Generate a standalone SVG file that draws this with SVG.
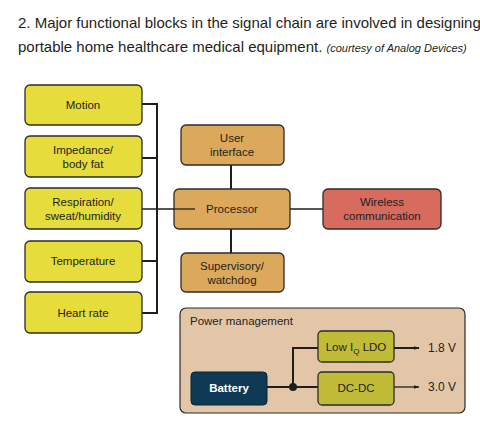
<svg xmlns="http://www.w3.org/2000/svg" width="480" height="444" viewBox="0 0 480 444">
<style>
.t{font-family:"Liberation Sans",Arial,sans-serif;fill:#231f20}
.cap{font-size:15px}
.lbl{font-size:11.5px;text-anchor:middle}
.box{stroke:#2b2b2b;stroke-width:1.3}
.y{fill:#e6dc3c}
.o{fill:#dca85b}
.r{fill:#d66b5e}
.g{fill:#c0bc38}
.w{stroke:#1e1e1e;stroke-width:2;fill:none}
.thin{stroke:#1e1e1e;stroke-width:1.3;fill:none}
</style>
<defs>
<marker id="ah" viewBox="0 0 10 10" refX="9" refY="5" markerWidth="6" markerHeight="6" orient="auto" markerUnits="userSpaceOnUse"><path d="M0,2 L10,5 L0,8 Z" fill="#1e1e1e"/></marker>
</defs>
<rect width="480" height="444" fill="#ffffff"/>
<text class="t cap" x="18" y="28">2. Major functional blocks in the signal chain are involved in designing</text>
<text class="t cap" x="18" y="52">portable home healthcare medical equipment. <tspan font-size="11" font-style="italic">(courtesy of Analog Devices)</tspan></text>

<g id="power-bg">
<rect x="180" y="308" width="285" height="105" rx="6" fill="#e3c6a8" stroke="#2b2b2b" stroke-width="1.2"/>
<text class="t" x="190" y="325" font-size="11.5">Power management</text>
</g>

<g id="connectors">
<path class="w" d="M142,104 H157 V313 H142 M142,158 H157 M142,261 H157"/>
<path class="thin" d="M142,209 H195"/>
<path class="w" d="M231,165 V189 M231,229 V253"/>
<path class="thin" d="M290,209 H323"/>
<path class="w" d="M267,387 H318 M293,387 V348 H318"/>
<circle cx="293" cy="387" r="4" fill="#1e1e1e"/>
<path class="w" d="M394,348 H419" marker-end="url(#ah)"/>
<path class="thin" d="M394,387 H419" marker-end="url(#ah)"/>
</g>

<g id="motion"><rect class="box y" x="25" y="85" width="117" height="40" rx="5"/><text class="t lbl" x="83" y="109">Motion</text></g>
<g id="impedance"><rect class="box y" x="25" y="136" width="117" height="41" rx="5"/><text class="t lbl" x="83" y="154">Impedance/</text><text class="t lbl" x="83" y="168">body fat</text></g>
<g id="respiration"><rect class="box y" x="25" y="188" width="117" height="41" rx="5"/><text class="t lbl" x="83" y="206">Respiration/</text><text class="t lbl" x="83" y="220">sweat/humidity</text></g>
<g id="temperature"><rect class="box y" x="25" y="241" width="117" height="41" rx="5"/><text class="t lbl" x="83" y="265">Temperature</text></g>
<g id="heart-rate"><rect class="box y" x="25" y="292" width="117" height="41" rx="5"/><text class="t lbl" x="83" y="317">Heart rate</text></g>

<g id="user-interface"><rect class="box o" x="181" y="125" width="103" height="40" rx="5"/><text class="t lbl" x="232" y="142">User</text><text class="t lbl" x="232" y="156">interface</text></g>
<g id="processor"><rect class="box o" x="174" y="189" width="116" height="40" rx="5"/><path class="thin" d="M174,209 H195"/><text class="t lbl" x="232" y="213">Processor</text></g>
<g id="supervisory"><rect class="box o" x="181" y="253" width="103" height="39" rx="5"/><text class="t lbl" x="232" y="270">Supervisory/</text><text class="t lbl" x="232" y="284">watchdog</text></g>
<g id="wireless"><rect class="box r" x="323" y="189" width="118" height="40" rx="5"/><text class="t lbl" x="382" y="206">Wireless</text><text class="t lbl" x="382" y="220">communication</text></g>

<g id="battery"><rect x="191" y="372" width="76" height="33" rx="4" fill="#0f3a56" stroke="#0a2233" stroke-width="1"/><text class="lbl" x="229" y="392" font-family="Liberation Sans,Arial,sans-serif" font-weight="bold" fill="#ffffff">Battery</text></g>
<g id="ldo"><rect class="box g" x="318" y="331" width="76" height="31" rx="4"/><text class="t lbl" x="356" y="351">Low I<tspan font-size="8" dy="3">Q</tspan><tspan dy="-3"> LDO</tspan></text></g>
<g id="dcdc"><rect class="box g" x="318" y="372" width="76" height="33" rx="4"/><text class="t lbl" x="356" y="392">DC-DC</text></g>
<text class="t" x="428" y="352" font-size="12">1.8 V</text>
<text class="t" x="428" y="391" font-size="12">3.0 V</text>
</svg>
